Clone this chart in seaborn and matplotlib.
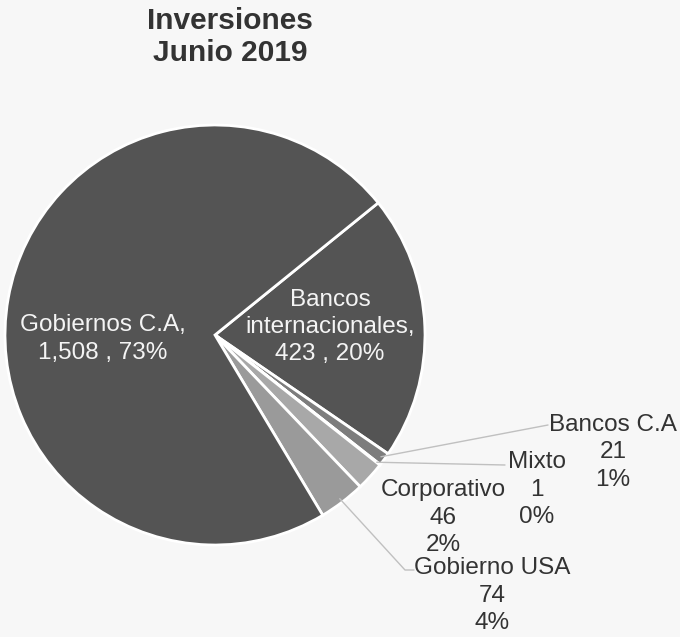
import numpy as np
import matplotlib.pyplot as plt
import seaborn as sns

sns.set_theme(style="white")
plt.rcParams['font.family'] = ['Liberation Sans', 'DejaVu Sans']

categorias = ["Bancos\ninternacionales", "Bancos C.A", "Mixto", "Corporativo",
              "Gobierno USA", "Gobiernos C.A"]
valores = [423, 21, 1, 46, 74, 1508]
colores = ["#545454", "#7d7d7d", "#8f8f8f", "#a8a8a8", "#9a9a9a", "#545454"]

total = sum(valores)
pcts = [round(v / total * 100) for v in valores]

fig = plt.figure(figsize=(6.8, 6.37), dpi=100)
fig.patch.set_facecolor("#f7f7f7")
ax = fig.add_axes([0, 0, 1, 1])

cx, cy, r = 215, 302, 210
wedges, _ = ax.pie(valores, colors=colores, startangle=39, counterclock=False,
                   center=(cx, cy), radius=r, frame=True,
                   wedgeprops=dict(edgecolor="white", linewidth=2))
ax.set_xlim(0, 680)
ax.set_ylim(0, 637)
ax.set_aspect("equal")
ax.axis("off")

fs = 17.5
ls = 1.32
paso = 27.5

# etiquetas dentro
ax.text(103, 298, f"Gobiernos C.A,\n{valores[5]:,} , {pcts[5]}%",
        ha="center", va="center", color="#f4f4f4", fontsize=fs, linespacing=ls)
ax.text(330, 310, f"Bancos\ninternacionales,\n{valores[0]} , {pcts[0]}%",
        ha="center", va="center", color="#f4f4f4", fontsize=fs, linespacing=ls)

# etiquetas fuera: (x centro, y primera linea, fin de linea guia, esquina)
posiciones = {
    1: (613, 212, (548, 212), None),
    2: (537, 175, (505, 172), None),
    3: (443, 147, None, None),
    4: (492, 69, (414, 67), (405, 67)),
}
for i, (tx, ty, fin, esquina) in posiciones.items():
    lineas = [categorias[i], str(valores[i]), f"{pcts[i]}%"]
    for k, t in enumerate(lineas):
        ax.text(tx, ty - k * paso, t, ha="center", va="center",
                color="#333333", fontsize=fs)
    if fin is None:
        continue
    w = wedges[i]
    ang = np.deg2rad((w.theta1 + w.theta2) / 2)
    px = cx + r * 0.98 * np.cos(ang)
    py = cy + r * 0.98 * np.sin(ang)
    xs, ys = [px], [py]
    if esquina is not None:
        xs.append(esquina[0])
        ys.append(esquina[1])
    xs.append(fin[0])
    ys.append(fin[1])
    ax.plot(xs, ys, color="#c0c0c0", lw=1)

ax.text(230, 600, "Inversiones\nJunio 2019", ha="center", va="center",
        fontsize=21.5, fontweight="bold", color="#333333", linespacing=1.15)

fig.savefig("out.png", dpi=100, facecolor=fig.get_facecolor())
